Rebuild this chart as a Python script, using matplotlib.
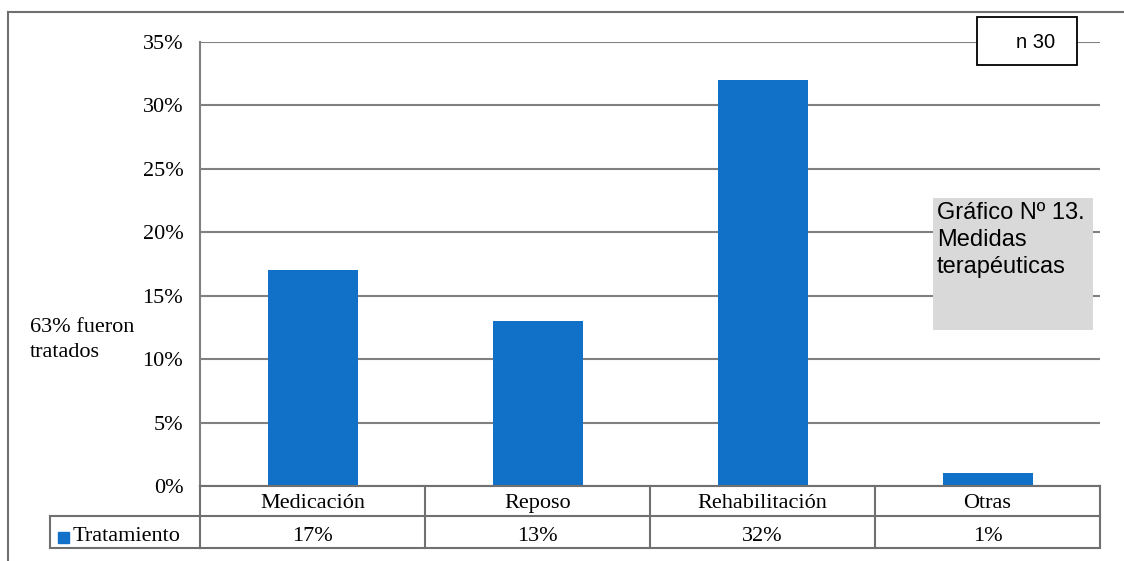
import matplotlib
matplotlib.use("Agg")
import matplotlib.pyplot as plt
from matplotlib.patches import Rectangle
from matplotlib.lines import Line2D
import matplotlib.transforms as mtransforms

categories = ["Medicación", "Reposo", "Rehabilitación", "Otras"]
values = [17, 13, 32, 1]
series_name = "Tratamiento"
yticks = [0, 5, 10, 15, 20, 25, 30, 35]

W, H = 1124, 561
fig = plt.figure(figsize=(W / 100, H / 100), dpi=100)
serif = ["Liberation Serif", "DejaVu Serif"]
sans = ["Liberation Sans", "DejaVu Sans"]
FS = 16

def fx(px):
    return px / W

def fy(py):
    return 1 - py / H

ax = fig.add_axes([fx(200), fy(486), fx(1100) - fx(200), fy(42) - fy(486)])
bar_color = "#1170C8"
grid_color = "#808080"
x = list(range(len(categories)))
ax.bar(x, values, width=0.4, color=bar_color, zorder=3)
ax.set_xlim(-0.5, len(categories) - 0.5)
ax.set_ylim(0, 35)
ax.set_yticks(yticks)
ax.set_yticklabels([f"{v}%" for v in yticks], fontsize=FS, family=serif)
ax.tick_params(axis="y", length=0, pad=12)
for lab in ax.get_yticklabels():
    lab.set_verticalalignment("center_baseline")
ax.set_xticks([])
for s in ["top", "right", "bottom"]:
    ax.spines[s].set_visible(False)
ax.spines["left"].set_color(grid_color)
ax.spines["left"].set_linewidth(1.5)
for v in yticks:
    ax.axhline(v, color=grid_color, lw=1.5, zorder=1)

# data table below the axes
tcol = "#707070"
trans = mtransforms.blended_transform_factory(ax.transData, fig.transFigure)
y0, y1, y2 = fy(486), fy(516), fy(548)
for yy in (y0, y1, y2):
    fig.add_artist(Line2D([-0.5, len(categories) - 0.5], [yy, yy], transform=trans,
                          color=tcol, lw=1.5))
for b in range(len(categories) + 1):
    fig.add_artist(Line2D([b - 0.5, b - 0.5], [y0, y2], transform=trans, color=tcol, lw=1.5))
# row label cell
fig.add_artist(Line2D([fx(50), fx(200)], [y1, y1], color=tcol, lw=1.5))
fig.add_artist(Line2D([fx(50), fx(200)], [y2, y2], color=tcol, lw=1.5))
fig.add_artist(Line2D([fx(50), fx(50)], [y1, y2], color=tcol, lw=1.5))
for i, (c, v) in enumerate(zip(categories, values)):
    fig.text(i, fy(508), c, transform=trans, ha="center", va="baseline",
             fontsize=FS, family=serif)
    fig.text(i, fy(541), f"{v}%", transform=trans, ha="center", va="baseline",
             fontsize=FS, family=serif)
fig.add_artist(Rectangle((fx(58), fy(543)), fx(11), fy(532) - fy(543), color=bar_color))
fig.text(fx(73), fy(541), series_name, ha="left", va="baseline", fontsize=FS, family=serif)

# outer frame
fig.add_artist(Line2D([fx(8), fx(8)], [0, fy(12)], color=tcol, lw=1.5))
fig.add_artist(Line2D([fx(8), 1], [fy(12), fy(12)], color=tcol, lw=1.5))

# annotations
fig.text(fx(30), fy(340), "63% fueron\ntratados", ha="left", va="center",
         fontsize=FS, family=serif, linespacing=1.45)
fig.add_artist(Rectangle((fx(977), fy(65)), fx(100), fy(17) - fy(65),
                         facecolor="white", edgecolor="black", lw=1.3))
fig.text(fx(1036), fy(42), "n 30", ha="center", va="center", fontsize=14.5, family=sans)
fig.add_artist(Rectangle((fx(933), fy(330)), fx(160), fy(198) - fy(330),
                         facecolor="#D9D9D9", edgecolor="none"))
fig.text(fx(937), fy(202), "Gráfico Nº 13.\nMedidas\nterapéuticas", ha="left", va="top",
         fontsize=17, family=sans, linespacing=1.3)

fig.savefig("out.png", dpi=100)
